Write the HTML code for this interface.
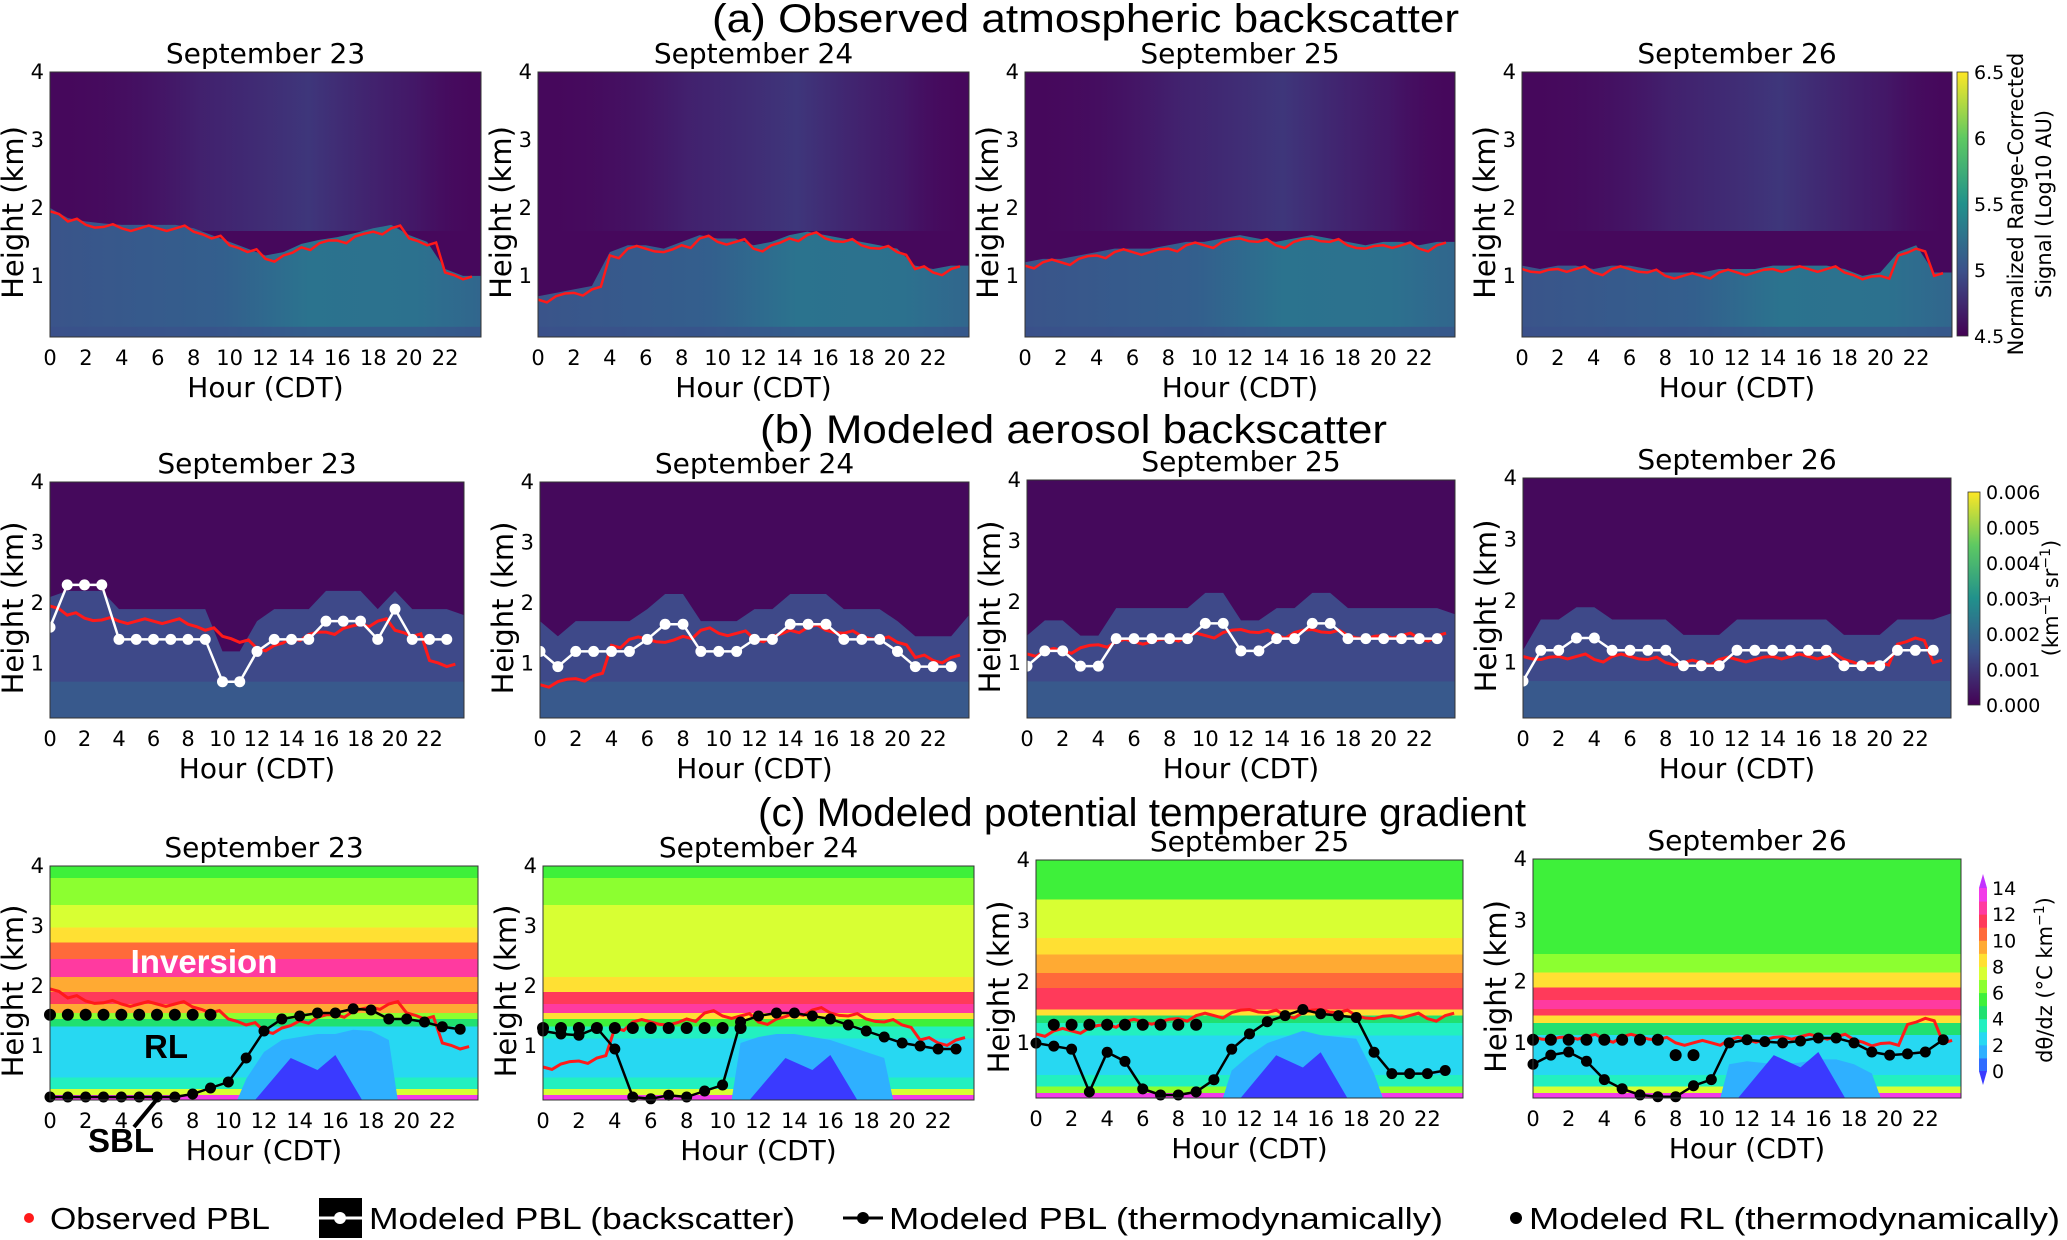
<!DOCTYPE html>
<html><head><meta charset="utf-8"><style>
html,body{margin:0;padding:0;background:#fff}
svg{display:block}
text{font-family:"DejaVu Sans","Liberation Sans",sans-serif}
.t{font-family:"Liberation Sans",sans-serif}
</style></head><body>
<svg id="fig" xmlns="http://www.w3.org/2000/svg" width="2067" height="1240" viewBox="0 0 2067 1240">
<defs>
<linearGradient id="vir" x1="0" y1="1" x2="0" y2="0">
<stop offset="0" stop-color="#440154"/><stop offset="0.25" stop-color="#3b528b"/><stop offset="0.5" stop-color="#21918c"/><stop offset="0.75" stop-color="#5ec962"/><stop offset="1" stop-color="#fde725"/>
</linearGradient>
<linearGradient id="noiseBand" x1="0" y1="0" x2="1" y2="0">
<stop offset="0" stop-color="#46085c" stop-opacity="0"/><stop offset="0.35" stop-color="#3d3a80" stop-opacity="0.5"/><stop offset="0.6" stop-color="#3b4a88" stop-opacity="0.7"/><stop offset="0.85" stop-color="#3d3a80" stop-opacity="0.3"/><stop offset="1" stop-color="#46085c" stop-opacity="0"/>
</linearGradient>
<linearGradient id="layerA" x1="0" y1="0" x2="1" y2="0">
<stop offset="0" stop-color="#3a548a"/><stop offset="0.4" stop-color="#335f8d"/><stop offset="0.6" stop-color="#2b738e"/><stop offset="0.85" stop-color="#2c718e"/><stop offset="1" stop-color="#31668d"/>
</linearGradient>
</defs>
<g id="root"></g>
</svg>
<script>
// ---- data ----
const hours = [0,1,2,3,4,5,6,7,8,9,10,11,12,13,14,15,16,17,18,19,20,21,22,23];
const dayTitles = ["September 23","September 24","September 25","September 26"];
const xTicks = [0,2,4,6,8,10,12,14,16,18,20,22];
const yTicks = [1,2,3,4];
const obs23 = [1.95,1.8,1.75,1.72,1.7,1.7,1.7,1.7,1.65,1.55,1.45,1.35,1.25,1.3,1.42,1.48,1.52,1.58,1.65,1.7,1.55,1.45,1.05,0.95];
const obs24 = [0.65,0.7,0.75,0.8,1.3,1.4,1.4,1.35,1.45,1.55,1.5,1.5,1.4,1.45,1.55,1.6,1.55,1.5,1.45,1.4,1.35,1.1,1.05,1.1];
const obs25 = [1.15,1.2,1.2,1.25,1.3,1.35,1.35,1.35,1.4,1.45,1.45,1.5,1.55,1.5,1.45,1.5,1.55,1.5,1.45,1.4,1.45,1.45,1.4,1.45];
const obs26 = [1.1,1.05,1.1,1.1,1.05,1.1,1.1,1.05,1.0,1.0,1.0,1.05,1.05,1.05,1.1,1.1,1.1,1.1,1.05,0.95,1.0,1.3,1.4,1.0];
const bsc23 = [1.6,2.3,2.3,2.3,1.4,1.4,1.4,1.4,1.4,1.4,0.7,0.7,1.2,1.4,1.4,1.4,1.7,1.7,1.7,1.4,1.9,1.4,1.4,1.4];
const bsc24 = [1.2,0.95,1.2,1.2,1.2,1.2,1.4,1.65,1.65,1.2,1.2,1.2,1.4,1.4,1.65,1.65,1.65,1.4,1.4,1.4,1.2,0.95,0.95,0.95];
const bsc25 = [0.95,1.2,1.2,0.95,0.95,1.4,1.4,1.4,1.4,1.4,1.65,1.65,1.2,1.2,1.4,1.4,1.65,1.65,1.4,1.4,1.4,1.4,1.4,1.4];
const bsc26 = [0.7,1.2,1.2,1.4,1.4,1.2,1.2,1.2,1.2,0.95,0.95,0.95,1.2,1.2,1.2,1.2,1.2,1.2,0.95,0.95,0.95,1.2,1.2,1.2];
const thm23 = [0.15,0.15,0.15,0.15,0.15,0.15,0.15,0.15,0.2,0.3,0.4,0.8,1.25,1.45,1.5,1.55,1.55,1.62,1.6,1.45,1.45,1.4,1.32,1.28];
const thm24 = [1.25,1.2,1.18,1.3,0.95,0.15,0.12,0.18,0.15,0.25,0.35,1.4,1.5,1.55,1.55,1.5,1.45,1.35,1.25,1.15,1.05,1.0,0.95,0.95];
const thm25 = [1.0,0.95,0.9,0.2,0.85,0.7,0.25,0.15,0.15,0.2,0.4,0.9,1.15,1.35,1.45,1.55,1.48,1.45,1.42,0.85,0.5,0.5,0.5,0.55];
const thm26 = [0.65,0.8,0.85,0.7,0.4,0.25,0.15,0.12,0.12,0.3,0.4,1.0,1.05,1.02,1.0,1.03,1.08,1.08,1.0,0.85,0.8,0.82,0.85,1.05];
const rlH23 = [0,1,2,3,4,5,6,7,8,9]; const rlV23 = [1.52,1.52,1.52,1.52,1.52,1.52,1.52,1.52,1.52,1.52];
const rlH24 = [0,1,2,3,4,5,6,7,8,9,10,11]; const rlV24 = [1.3,1.3,1.3,1.3,1.3,1.3,1.3,1.3,1.3,1.3,1.3,1.3];
const rlH25 = [1,2,3,4,5,6,7,8,9]; const rlV25 = [1.3,1.3,1.3,1.3,1.3,1.3,1.3,1.3,1.3];
const rlH26 = [0,1,2,3,4,5,6,7,8,9]; const rlV26 = [1.05,1.05,1.05,1.05,1.05,1.05,1.05,1.05,0.8,0.8];
// dθ/dz vertical profiles (height km, value)
const profH = [4.0,3.6,3.1,2.85,2.6,2.3,2.0,1.8,1.6,1.5,1.4,1.25,1.0,0.6,0.35,0.22,0.14];
const prof23 = [5,6,7,8,10,12,9,11,9,6,4.5,2.5,2,2.5,3.5,7,13];
const prof24 = [5,6,7,7,7,7,8,11,12,8,5,3,2,2.5,3.5,7,13];
const prof25 = [5,5.5,7,7,8,9,10,11,11,8,4.5,3,2.5,2,3,6,13];
const prof26 = [5.5,5.5,5,5.5,5.5,6,8,11,12,11,8,4,2.5,2,3,7,13];
const cLevels = [-1,0,1,2,3,4,5,6,7,8,9,10,11,12,13,14];
const cColors = ["#3a3aff","#2f6cff","#2fb0ff","#27d8f2","#22f0c0","#20e070","#3ef03a","#8cff30","#d8ff33","#ffe033","#ffaa33","#ff6a3a","#ff3a5a","#ff3aa0","#f23ae8","#c233ff"];
const cbTicksA = ["6.5","6","5.5","5","4.5"];
const cbTicksB = ["0.006","0.005","0.004","0.003","0.002","0.001","0.000"];
const cbTicksC = ["14","12","10","8","6","4","2","0"];

const obs=[obs23,obs24,obs25,obs26], bsc=[bsc23,bsc24,bsc25,bsc26], thm=[thm23,thm24,thm25,thm26];
const rlH=[rlH23,rlH24,rlH25,rlH26], rlV=[rlV23,rlV24,rlV25,rlV26], profs=[prof23,prof24,prof25,prof26];

const NS="http://www.w3.org/2000/svg";
const root=document.getElementById('root');
function mk(tag,attrs,parent){const e=document.createElementNS(NS,tag);for(const k in attrs)e.setAttribute(k,attrs[k]);(parent||root).appendChild(e);return e;}
function txt(s,attrs,parent){const e=mk('text',attrs,parent);e.textContent=s;return e;}

const rowA=[[50,72,431,265],[538,72,431,265],[1025,72,430,265],[1522,72,430,265]];
const rowB=[[50,482,414,236],[540,482,429,236],[1027,480,428,238],[1523,478,428,240]];
const rowC=[[50,866,428,234],[543,866,431,234],[1036,860,427,238],[1533,859,428,239]];

function axes(p){const[px,py,pw,ph]=p;return{x:h=>px+h/24*pw,y:k=>py+ph-(k-0.1)/3.9*ph};}
function colorFor(v){let i=0;for(let j=0;j<cLevels.length;j++){if(v>=cLevels[j])i=j;}return cColors[i];}

function frame(p,g,title,ti){
  const[px,py,pw,ph]=p;const A=axes(p);
  mk('rect',{x:px,y:py,width:pw,height:ph,fill:'none',stroke:'#333','stroke-width':1},g);
  const t=txt(title,{x:px+pw/2,y:py-9,'text-anchor':'middle','font-size':28,fill:'#000'},g);
  
  
  xTicks.forEach(h=>{const tl=txt(String(h),{x:A.x(h),y:py+ph+28,'text-anchor':'middle','font-size':21,fill:'#000'},g);
    
    });
  yTicks.forEach(k=>{const tl=txt(String(k),{x:px-6,y:A.y(k)+7,'text-anchor':'end','font-size':21,fill:'#000'},g);
    
    });
  const xl=txt('Hour (CDT)',{x:px+pw/2,y:py+ph+60,'text-anchor':'middle','font-size':28,fill:'#000'},g);
  
  
  const yl=txt('Height (km)',{x:0,y:0,'text-anchor':'middle','font-size':29,fill:'#000',transform:`translate(${px-27},${py+ph/2+8}) rotate(-90)`},g);
  
  
}
function obsLine(A,arr,g,w){
  const pts=[];hours.forEach((h,i)=>{pts.push(A.x(h)+','+A.y(arr[i]));pts.push(A.x(h+0.5)+','+A.y(arr[i]+(i%2?0.04:-0.04)));});
  const l=mk('polyline',{points:pts.join(' '),fill:'none',stroke:'#ff1a1a','stroke-width':w||3},g);
  
  
}

// Row titles
[["(a) Observed atmospheric backscatter",735,32,712,747],["(b) Modeled aerosol backscatter",1073,443,760,627],["(c) Modeled potential temperature gradient",1142,826,758,768]].forEach(r=>{
  const t=txt(r[0],{x:r[3],y:r[2],'font-size':40,fill:'#000',class:'t',textLength:r[4],lengthAdjust:'spacingAndGlyphs'});
  
  
});

// Row A
rowA.forEach((p,d)=>{
  const g=mk('g',{});
  const[px,py,pw,ph]=p;const A=axes(p);
  mk('rect',{x:px,y:py,width:pw,height:ph,fill:'#46085c'},g);
  mk('rect',{x:px,y:py,width:pw,height:ph*0.6,fill:'url(#noiseBand)'},g);
  let pts=[A.x(0)+','+A.y(0.1)];hours.forEach((h,i)=>pts.push(A.x(h)+','+A.y(obs[d][i]+0.05)));pts.push(A.x(24)+','+A.y(obs[d][23]+0.05));pts.push(A.x(24)+','+A.y(0.1));
  const f=mk('polygon',{points:pts.join(' '),fill:'url(#layerA)'},g);
  mk('rect',{x:px,y:A.y(0.25),width:pw,height:A.y(0.1)-A.y(0.25),fill:'#3b4f8a',opacity:0.6},g);
  obsLine(A,obs[d],g,2.5);
  frame(p,g,dayTitles[d],d);
});
// Row B
rowB.forEach((p,d)=>{
  const g=mk('g',{});
  const[px,py,pw,ph]=p;const A=axes(p);
  mk('rect',{x:px,y:py,width:pw,height:ph,fill:'#45095c'},g);
  let pts=[A.x(0)+','+A.y(0.1)];hours.forEach((h,i)=>pts.push(A.x(h)+','+A.y(Math.min(bsc[d][i]+0.5,2.2))));pts.push(A.x(24)+','+A.y(1.8));pts.push(A.x(24)+','+A.y(0.1));
  mk('polygon',{points:pts.join(' '),fill:'#3e4989'},g);
  mk('rect',{x:px,y:A.y(0.7),width:pw,height:A.y(0.1)-A.y(0.7),fill:'#38598c'},g);
  obsLine(A,obs[d],g,3);
  const wl=mk('polyline',{points:hours.map((h,i)=>A.x(h)+','+A.y(bsc[d][i])).join(' '),fill:'none',stroke:'#fff','stroke-width':2.5},g);
  
  
  hours.forEach((h,i)=>{const c=mk('circle',{cx:A.x(h),cy:A.y(bsc[d][i]),r:5.5,fill:'#fff'},g);
    
    });
  frame(p,g,dayTitles[d],d);
});
// Row C
rowC.forEach((p,d)=>{
  const g=mk('g',{});
  const[px,py,pw,ph]=p;const A=axes(p);
  const gid='pg'+d;const lg=mk('linearGradient',{id:gid,x1:0,y1:0,x2:0,y2:1},document.querySelector('defs'));
  profH.forEach((hk,i)=>{const off=(A.y(hk)-py)/ph;const c=colorFor(profs[d][i]);
    if(i>0){const prev=(A.y(profH[i-1])-py)/ph;mk('stop',{offset:(prev+off)/2,'stop-color':colorFor(profs[d][i-1])},lg);mk('stop',{offset:(prev+off)/2,'stop-color':c},lg);}
    else mk('stop',{offset:0,'stop-color':c},lg);});
  mk('stop',{offset:1,'stop-color':colorFor(profs[d][profH.length-1])},lg);
  mk('rect',{x:px,y:py,width:pw,height:ph,fill:`url(#${gid})`},g);
  const cb=[A.x(10.5)+','+A.y(0.1)];for(let h=11;h<=19;h++)cb.push(A.x(h)+','+A.y(Math.max(0.2,thm[d][h]-0.35)));cb.push(A.x(19.5)+','+A.y(0.1));
  mk('polygon',{points:cb.join(' '),fill:'#2fb0ff'},g);
  const db=[A.x(11.5)+','+A.y(0.1),A.x(13.5)+','+A.y(0.8),A.x(15)+','+A.y(0.6),A.x(16)+','+A.y(0.85),A.x(17.5)+','+A.y(0.1)];
  mk('polygon',{points:db.join(' '),fill:'#3a3aff'},g);
  obsLine(A,obs[d],g,3);
  const bl=mk('polyline',{points:hours.map((h,i)=>A.x(h)+','+A.y(thm[d][i])).join(' '),fill:'none',stroke:'#000','stroke-width':2.5},g);
  
  
  hours.forEach((h,i)=>{const c=mk('circle',{cx:A.x(h),cy:A.y(thm[d][i]),r:5.5,fill:'#000'},g);
    
    });
  rlH[d].forEach((h,i)=>{const c=mk('circle',{cx:A.x(h),cy:A.y(rlV[d][i]),r:6,fill:'#000'},g);
    
    });
  frame(p,g,dayTitles[d],d);
});
// Annotations on c1
(function(){
  const a1=txt('Inversion',{x:204,y:973,'text-anchor':'middle','font-size':33,'font-weight':'bold',fill:'#fff',class:'t'});
  const a2=txt('RL',{x:166,y:1058,'text-anchor':'middle','font-size':33,'font-weight':'bold',fill:'#000',class:'t'});
  const a3=txt('SBL',{x:121,y:1152,'text-anchor':'middle','font-size':33,'font-weight':'bold',fill:'#000',class:'t'});
  const ar=mk('line',{x1:134,y1:1127,x2:158,y2:1098,stroke:'#000','stroke-width':4});
})();
// Colorbars
function cbar(x,y,w,h,fill,ticks,tx,name){
  const g=mk('g',{});
  mk('rect',{x:x,y:y,width:w,height:h,fill:fill,stroke:'#333','stroke-width':0.8},g);
  ticks.forEach((t,i)=>{const yy=y+i*h/(ticks.length-1);const tl=txt(t,{x:tx,y:yy+7,'font-size':19,fill:'#000'},g);
    
    });
  return g;
}
const ga=cbar(1957,72,11,264,'url(#vir)',cbTicksA,1974,'colorbar-observed');
txt('Normalized Range-Corrected',{x:0,y:0,'text-anchor':'middle','font-size':21,fill:'#000',transform:'translate(2023,204) rotate(-90)'},ga);
txt('Signal (Log10 AU)',{x:0,y:0,'text-anchor':'middle','font-size':21,fill:'#000',transform:'translate(2051,204) rotate(-90)'},ga);
const gb=cbar(1968,492,12,213,'url(#vir)',cbTicksB,1986,'colorbar-aerosol');
const bl2=txt('',{x:0,y:0,'text-anchor':'middle','font-size':21,fill:'#000',transform:'translate(2058,598) rotate(-90)'},gb);
bl2.innerHTML='(km<tspan dy="-8" font-size="14">−1</tspan><tspan dy="8"> sr</tspan><tspan dy="-8" font-size="14">−1</tspan><tspan dy="8">)</tspan>';
(function(){
  const g=mk('g',{});
  const x=1979,y=888,w=8,h=183;const n=cColors.length-2;
  for(let i=1;i<=n;i++){mk('rect',{x:x,y:y+h-(i)*h/n,width:w,height:h/n+0.5,fill:cColors[i]},g);}
  mk('polygon',{points:`${x},${y} ${x+w},${y} ${x+w/2},${y-14}`,fill:cColors[15]},g);
  mk('polygon',{points:`${x},${y+h} ${x+w},${y+h} ${x+w/2},${y+h+14}`,fill:cColors[0]},g);
  cbTicksC.forEach((t,i)=>{const tl=txt(t,{x:1992,y:y+(i*2)/14*h+7,'font-size':19,fill:'#000'},g);
    
    });
  const l=txt('',{x:0,y:0,'text-anchor':'middle','font-size':21,fill:'#000',transform:'translate(2052,980) rotate(-90)'},g);
  l.innerHTML='dθ/dz (°C km<tspan dy="-8" font-size="14">−1</tspan><tspan dy="8">)</tspan>';
})();
// Legend
(function(){
  const g=mk('g',{});
  const y=1218;
  mk('circle',{cx:29,cy:y,r:5,fill:'#ff1a1a'},g);
  txt('Observed PBL',{x:50,y:y+11,'font-size':31,fill:'#000',class:'t',textLength:220,lengthAdjust:'spacingAndGlyphs'},g);
  mk('rect',{x:319,y:y-20,width:43,height:40,fill:'#000'},g);
  mk('line',{x1:319,y1:y,x2:362,y2:y,stroke:'#fff','stroke-width':3},g);
  mk('circle',{cx:340,cy:y,r:6,fill:'#fff'},g);
  txt('Modeled PBL (backscatter)',{x:369,y:y+11,'font-size':31,fill:'#000',class:'t',textLength:426,lengthAdjust:'spacingAndGlyphs'},g);
  mk('line',{x1:843,y1:y,x2:883,y2:y,stroke:'#000','stroke-width':3},g);
  mk('circle',{cx:863,cy:y,r:6,fill:'#000'},g);
  txt('Modeled PBL (thermodynamically)',{x:889,y:y+11,'font-size':31,fill:'#000',class:'t',textLength:554,lengthAdjust:'spacingAndGlyphs'},g);
  mk('circle',{cx:1516,cy:y,r:6,fill:'#000'},g);
  txt('Modeled RL (thermodynamically)',{x:1529,y:y+11,'font-size':31,fill:'#000',class:'t',textLength:531,lengthAdjust:'spacingAndGlyphs'},g);
})();
</script>
</body></html>
